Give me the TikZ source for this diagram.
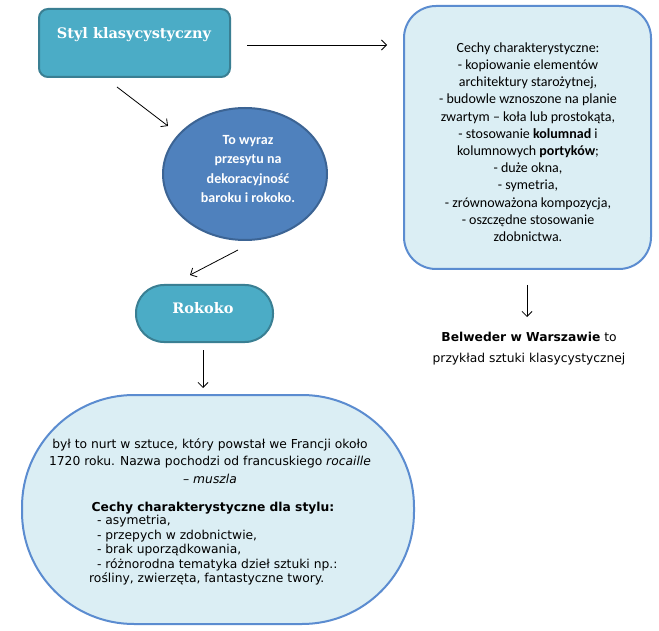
\documentclass[tikz,border=0pt]{standalone}
\usepackage{fontspec}
\setmainfont{Carlito}
\newfontfamily\verd{DejaVu Sans}
\newfontfamily\slab{DejaVu Serif}
\usetikzlibrary{arrows.meta,shapes.geometric}
\definecolor{tealfill}{HTML}{4BACC6}
\definecolor{tealline}{HTML}{3A7F93}
\definecolor{bluefill}{HTML}{4F81BD}
\definecolor{blueline}{HTML}{3C6494}
\definecolor{lightfill}{HTML}{DBEEF4}
\definecolor{lightline}{HTML}{5B8CD0}
\begin{document}
\begin{tikzpicture}[x=1pt,y=-1pt,
  arr/.style={-{Straight Barb[length=5pt,width=10pt]}, line width=0.8pt},
  tealbox/.style={draw=tealline, fill=tealfill, line width=2pt, inner sep=0pt},
  lightbox/.style={draw=lightline, fill=lightfill, line width=2pt, inner sep=0pt},
  slabtext/.style={text=white, font=\slab\bfseries\fontsize{14.5}{17}\selectfont, inner sep=0pt},
  verdtext/.style={font=\verd\fontsize{12.3}{14.5}\selectfont, inner sep=0pt}
]
\useasboundingbox[fill=white] (0,0) rectangle (659,631);

% top-left box
\node[tealbox, rounded corners=9pt, minimum width=191pt, minimum height=68pt] (styl) at (134.5,43) {};
\node[slabtext] (stylt) at (134,35) {Styl klasycystyczny};

% right box
\node[lightbox, rounded corners=32pt, minimum width=247pt, minimum height=263pt] (cechy) at (527.5,137.5) {};
\node[inner sep=0pt, align=center, font=\fontsize{14}{17.2}\selectfont] (cechyt) at (528,142) {Cechy charakterystyczne:\\
- kopiowanie elementów\\
architektury starożytnej,\\
- budowle wznoszone na planie\\
zwartym – koła lub prostokąta,\\
- stosowanie \textbf{kolumnad} i\\
kolumnowych \textbf{portyków};\\
- duże okna,\\
- symetria,\\
- zrównoważona kompozycja,\\
- oszczędne stosowanie\\
zdobnictwa.};

% ellipse
\node[ellipse, draw=blueline, fill=bluefill, line width=2pt, minimum width=164pt, minimum height=132pt, inner sep=0pt] (ell) at (245,174) {};
\node[inner sep=0pt, align=center, text=white, font=\bfseries\fontsize{14}{19.5}\selectfont] (ellt) at (248,169) {To wyraz\\przesytu na\\dekoracyjność\\baroku i rokoko.};

% Rokoko
\node[tealbox, rounded corners=28pt, minimum width=137pt, minimum height=57pt] (rok) at (204.5,313.5) {};
\node[slabtext] (rokt) at (203,308) {Rokoko};

% bottom shape
\node[lightbox, rounded corners=112pt, minimum width=392pt, minimum height=229pt] (rokc) at (218,509.5) {};
\node[verdtext, align=center, font=\verd\fontsize{12.3}{17.5}\selectfont] (rokp) at (210,461) {był to nurt w sztuce, który powstał we Francji około\\
1720 roku. Nazwa pochodzi od francuskiego \textit{rocaille}\\
– \textit{muszla}};
\node[verdtext, font=\verd\bfseries\fontsize{12.3}{14.5}\selectfont] (rokh) at (213,508) {Cechy charakterystyczne dla stylu:};
\node[verdtext, align=left, anchor=north west] (rokl) at (89,515) {\ \ - asymetria,\\
\ \ - przepych w zdobnictwie,\\
\ \ - brak uporządkowania,\\
\ \ - różnorodna tematyka dzieł sztuki np.:\\
rośliny, zwierzęta, fantastyczne twory.};

% Belweder
\node[verdtext, align=center, font=\verd\fontsize{12.3}{21}\selectfont] (bel) at (529,349) {\textbf{Belweder w Warszawie} to\\przykład sztuki klasycystycznej};

% connectors
\coordinate (a1s) at (117,87);
\coordinate (a1e) at (168,126);
\coordinate (a2s) at (238,250);
\coordinate (a2e) at (190,275);
\coordinate (a3s) at (247,45);
\coordinate (a3e) at (387,45);
\coordinate (a4s) at (203,350);
\coordinate (a4e) at (203,388);
\coordinate (a5s) at (527,285);
\coordinate (a5e) at (527,317);
\draw[arr] (a1s) -- (a1e);
\draw[arr] (a2s) -- (a2e);
\draw[arr] (a3s) -- (a3e);
\draw[arr] (a4s) -- (a4e);
\draw[arr] (a5s) -- (a5e);
\end{tikzpicture}
\end{document}
